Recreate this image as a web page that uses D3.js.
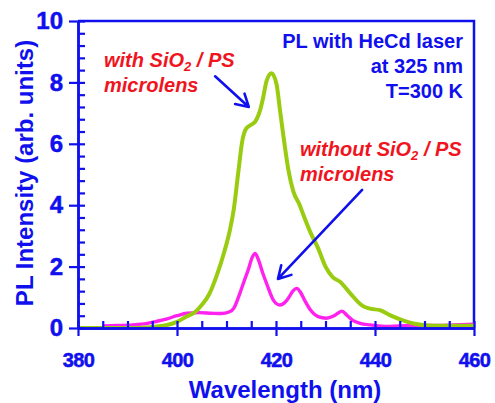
<!DOCTYPE html>
<html>
<head>
<meta charset="utf-8">
<script src="https://cdn.jsdelivr.net/npm/d3@7"></script>
<style>
  html, body { margin: 0; padding: 0; background: #fff; }
  svg { display: block; font-family: "Liberation Sans", Arial, sans-serif; font-weight: bold; }
</style>
</head>
<body>
<div id="chart"></div>
<script>
// with SiO2 / PS microlens (green)
const withWl = [380, 385, 390, 393, 396, 398, 400, 402, 403.5, 405, 406.5, 408, 409.5, 410.7, 411.5, 412.4, 413.2, 414, 415, 415.8, 416.8, 417.4, 418.1, 419.1, 420.1, 420.8, 421.5, 422.5, 423.5, 424.8, 425.5, 427, 428.5, 430, 431.5, 433, 435, 437.5, 439, 441, 443, 445.5, 448, 452, 456, 460];
const withPL = [0, 0, 0, 0.01, 0.05, 0.1, 0.2, 0.38, 0.5, 0.75, 1.1, 1.7, 2.45, 3.2, 3.9, 5.1, 6.1, 6.5, 6.62, 6.72, 7.1, 7.5, 8.05, 8.3, 7.95, 7.1, 6.25, 5.15, 4.45, 4.0, 3.7, 3.1, 2.6, 2.0, 1.65, 1.5, 1.13, 0.72, 0.63, 0.58, 0.42, 0.26, 0.14, 0.07, 0.07, 0.07];

// without microlens (magenta)
const withoutWl = [385, 388, 391, 394, 396, 398, 400, 402, 404.5, 407, 409, 410.5, 411.5, 412.7, 413.5, 414.4, 415.2, 415.8, 416.5, 417.3, 418.1, 419.5, 420.8, 421.7, 422.5, 423.4, 424.2, 425, 425.8, 426.9, 428.5, 430.2, 431.5, 432.5, 433.3, 434.3, 435.5, 437, 439, 443, 447, 452, 456, 460];
const withoutPL = [0.07, 0.08, 0.1, 0.15, 0.22, 0.3, 0.4, 0.48, 0.5, 0.48, 0.47, 0.52, 0.65, 1.13, 1.5, 1.9, 2.3, 2.43, 2.2, 1.8, 1.45, 0.9, 0.75, 0.82, 0.97, 1.2, 1.29, 1.15, 0.9, 0.6, 0.37, 0.32, 0.38, 0.48, 0.55, 0.42, 0.25, 0.15, 0.1, 0.05, 0.08, 0.08, 0.1, 0.12];

const xTicks = [380, 400, 420, 440, 460];
const yTicks = [0, 2, 4, 6, 8, 10];
const xMinor = [380, 385, 390, 395, 400, 405, 410, 415, 420, 425, 430, 435, 440, 445, 450, 455, 460];
const yMinor = [0, 0.4, 0.8, 1.2, 1.6, 2, 2.4, 2.8, 3.2, 3.6, 4, 4.4, 4.8, 5.2, 5.6, 6, 6.4, 6.8, 7.2, 7.6, 8, 8.4, 8.8, 9.2, 9.6, 10];

// annotation arrows, [from, to] in data units
const arrowWith = [[407.7, 8.2], [414.5, 7.2]];
const arrowWithout = [[437.4, 4.5], [420.4, 1.6]];

const width = 495, height = 403;
const blue = '#1010ee', red = '#f0141e', green = '#99cc11', pink = '#ff22ee';

const svg = d3.select('#chart')
    .append('svg')
    .attr('width', width)
    .attr('height', height);

const x = d3.scaleLinear().domain([380, 460]).range([78, 474]);
const y = d3.scaleLinear().domain([0, 10]).range([328, 21]);

// frame (top & right)
svg.append('path')
    .attr('d', `M${x(380)},${y(10)}H${x(460)}V${y(0)}`)
    .attr('fill', 'none')
    .attr('stroke', blue)
    .attr('stroke-width', 2.5);

// curves
const line = d3.line()
    .x(d => x(d[0]))
    .y(d => y(d[1]))
    .curve(d3.curveMonotoneX);

svg.append('path')
    .datum(withoutWl.map((w, i) => [w, withoutPL[i]]))
    .attr('d', line)
    .attr('fill', 'none')
    .attr('stroke', pink)
    .attr('stroke-width', 3.4)
    .attr('stroke-linejoin', 'round');

svg.append('path')
    .datum(withWl.map((w, i) => [w, withPL[i]]))
    .attr('d', line)
    .attr('fill', 'none')
    .attr('stroke', green)
    .attr('stroke-width', 4)
    .attr('stroke-linejoin', 'round');

// axes: inner minor ticks, outer major ticks with labels
function styleAxis(g) {
    g.select('.domain').attr('stroke', blue).attr('stroke-width', 2.5);
    g.selectAll('.tick line').attr('stroke', blue).attr('stroke-width', 2.2);
    g.selectAll('.tick text')
        .attr('fill', blue)
        .attr('font-weight', 'bold')
        .attr('stroke', blue)
        .attr('stroke-width', 0.5)
        .attr('font-family', '"Liberation Sans", Arial, sans-serif');
}

svg.append('g')
    .attr('transform', `translate(0,${y(0)})`)
    .call(d3.axisBottom(x).tickValues(xMinor).tickSize(-7).tickSizeOuter(0).tickFormat(''))
    .call(styleAxis);

svg.append('g')
    .attr('transform', `translate(0,${y(0)})`)
    .call(d3.axisBottom(x).tickValues(xTicks).tickSize(8).tickSizeOuter(0).tickPadding(17).tickFormat(d3.format('d')))
    .call(styleAxis)
    .call(g => g.selectAll('.tick text')
        .attr('font-size', 20)
        .attr('letter-spacing', -0.6));

svg.append('g')
    .attr('transform', `translate(${x(380)},0)`)
    .call(d3.axisLeft(y).tickValues(yMinor).tickSize(-7).tickSizeOuter(0).tickFormat(''))
    .call(styleAxis);

svg.append('g')
    .attr('transform', `translate(${x(380)},0)`)
    .call(d3.axisLeft(y).tickValues(yTicks).tickSize(9).tickSizeOuter(0).tickPadding(6).tickFormat(d3.format('d')))
    .call(styleAxis)
    .call(g => g.selectAll('.tick text').attr('font-size', 24));

// axis titles
svg.append('text')
    .attr('x', 285)
    .attr('y', 398)
    .attr('text-anchor', 'middle')
    .attr('font-size', 24)
    .attr('fill', blue)
    .text('Wavelength (nm)');

svg.append('text')
    .attr('transform', 'translate(33,173) rotate(-90)')
    .attr('text-anchor', 'middle')
    .attr('font-size', 24)
    .attr('fill', blue)
    .text('PL Intensity (arb. units)');

// conditions
const cond = svg.append('text')
    .attr('text-anchor', 'end')
    .attr('font-size', 20)
    .attr('fill', blue);
[['PL with HeCd laser', 48], ['at 325 nm', 73], ['T=300 K', 98]].forEach(([t, by]) => {
    cond.append('tspan').attr('x', 463).attr('y', by).text(t);
});

// red labels with subscript
function redLabel(xPos, yPos, prefix) {
    const t = svg.append('text')
        .attr('x', xPos)
        .attr('y', yPos)
        .attr('font-size', 20)
        .attr('font-style', 'italic')
        .attr('fill', red);
    t.append('tspan').text(prefix + ' SiO');
    t.append('tspan').attr('font-size', 13).attr('dy', 4).text('2');
    t.append('tspan').attr('dy', -4).text(' / PS');
    svg.append('text')
        .attr('x', xPos)
        .attr('y', yPos + 25)
        .attr('font-size', 20)
        .attr('font-style', 'italic')
        .attr('fill', red)
        .text('microlens');
}
redLabel(104, 67, 'with');
redLabel(300, 156, 'without');

// arrows
function arrow(a) {
    const [x0, y0] = [x(a[0][0]), y(a[0][1])];
    const [x1, y1] = [x(a[1][0]), y(a[1][1])];
    const ang = Math.atan2(y1 - y0, x1 - x0);
    const len = 14, spread = Math.PI / 6;
    const p = d3.path();
    p.moveTo(x0, y0);
    p.lineTo(x1, y1);
    p.moveTo(x1 - len * Math.cos(ang - spread), y1 - len * Math.sin(ang - spread));
    p.lineTo(x1, y1);
    p.lineTo(x1 - len * Math.cos(ang + spread), y1 - len * Math.sin(ang + spread));
    svg.append('path')
        .attr('d', p.toString())
        .attr('fill', 'none')
        .attr('stroke', blue)
        .attr('stroke-width', 2.6)
        .attr('stroke-linecap', 'round')
        .attr('stroke-linejoin', 'round');
}
arrow(arrowWith);
arrow(arrowWithout);
</script>
</body>
</html>
